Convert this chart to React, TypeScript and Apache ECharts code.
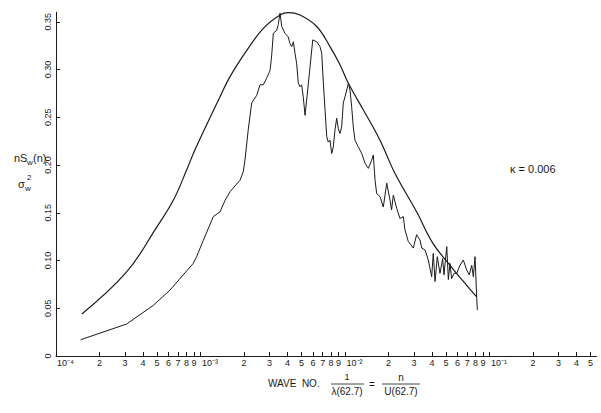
import React, { useEffect, useRef } from 'react';
import * as echarts from 'echarts';

// Smooth (theoretical) spectrum: wave number n and value nS_w(n)/σ_w²
const smoothN = [1.51e-4, 3.08e-4, 4.98e-4, 6.48e-4, 8.03e-4, 9.16e-4, 1.365e-3, 1.6e-3, 2.09e-3, 2.72e-3, 3.55e-3, 4.05e-3, 4.88e-3, 6.37e-3, 7.87e-3, 9.23e-3, 1.055e-2, 1.34e-2, 1.746e-2, 2.22e-2, 3.13e-2, 4.06e-2, 5.33e-2, 6.95e-2, 8.15e-2];
const smoothV = [0.044, 0.088, 0.135, 0.163, 0.195, 0.216, 0.2715, 0.2925, 0.320, 0.343, 0.357, 0.3595, 0.357, 0.345, 0.324, 0.305, 0.2855, 0.2576, 0.226, 0.191, 0.151, 0.118, 0.095, 0.074, 0.062];

// Measured (noisy) spectrum
const measuredN = [
  1.48e-4, 3.08e-4, 4.71e-4, 6.15e-4, 8.91e-4, 9.4e-4, 1.045e-3, 1.227e-3, 1.365e-3, 1.479e-3,
  1.6e-3, 1.876e-3, 1.977e-3, 2.03e-3, 2.14e-3, 2.26e-3, 2.45e-3, 2.58e-3, 2.72e-3, 2.87e-3,
  3.03e-3, 3.11e-3, 3.19e-3, 3.37e-3, 3.45e-3, 3.55e-3, 3.65e-3, 3.84e-3, 4.05e-3, 4.16e-3,
  4.28e-3, 4.39e-3, 4.51e-3, 4.63e-3, 4.75e-3, 4.88e-3, 5.01e-3, 5.14e-3, 5.29e-3, 5.43e-3,
  5.73e-3, 5.98e-3, 6.37e-3, 6.71e-3, 6.90e-3, 7.08e-3, 7.27e-3, 7.47e-3, 7.66e-3, 7.87e-3,
  8.09e-3, 8.30e-3, 8.53e-3, 8.76e-3, 8.99e-3, 9.23e-3, 9.48e-3, 9.73e-3, 1.0e-2, 1.028e-2,
  1.055e-2, 1.083e-2, 1.112e-2, 1.141e-2, 1.172e-2, 1.236e-2, 1.305e-2, 1.375e-2, 1.45e-2, 1.53e-2,
  1.57e-2, 1.614e-2, 1.657e-2, 1.746e-2, 1.841e-2, 1.944e-2, 2.05e-2, 2.10e-2, 2.16e-2, 2.28e-2,
  2.40e-2, 2.53e-2, 2.60e-2, 2.74e-2, 2.97e-2, 3.13e-2, 3.30e-2, 3.40e-2, 3.58e-2, 3.77e-2,
  3.98e-2, 4.08e-2, 4.20e-2, 4.35e-2, 4.54e-2, 4.74e-2, 4.84e-2, 5.06e-2, 5.19e-2, 5.33e-2,
  5.47e-2, 5.68e-2, 5.93e-2, 6.25e-2, 6.59e-2, 6.95e-2, 7.25e-2, 7.53e-2, 7.73e-2, 7.94e-2,
  8.15e-2, 8.24e-2,
];
const measuredV = [
  0.017, 0.0335, 0.053, 0.069, 0.097, 0.104, 0.121, 0.146, 0.151, 0.163,
  0.172, 0.184, 0.193, 0.205, 0.237, 0.265, 0.273, 0.284, 0.284, 0.291,
  0.299, 0.315, 0.338, 0.341, 0.347, 0.359, 0.345, 0.338, 0.334, 0.327,
  0.324, 0.329, 0.317, 0.306, 0.286, 0.282, 0.284, 0.2715, 0.252, 0.268,
  0.303, 0.331, 0.329, 0.324, 0.317, 0.286, 0.258, 0.230, 0.224, 0.226,
  0.212, 0.219, 0.237, 0.249, 0.238, 0.233, 0.240, 0.265, 0.2715, 0.2785,
  0.2855, 0.2785, 0.261, 0.240, 0.226, 0.219, 0.212, 0.202, 0.1965, 0.205,
  0.2105, 0.184, 0.170, 0.167, 0.156, 0.181, 0.163, 0.153, 0.1685, 0.1545,
  0.144, 0.146, 0.132, 0.120, 0.113, 0.127, 0.1215, 0.113, 0.111, 0.1005,
  0.083, 0.1075, 0.078, 0.104, 0.0866, 0.102, 0.085, 0.1145, 0.080, 0.097,
  0.081, 0.0866, 0.0866, 0.095, 0.1005, 0.090, 0.085, 0.095, 0.083, 0.104,
  0.062, 0.048,
];

const xTickValues = [
  1e-4, 2e-4, 3e-4, 4e-4, 5e-4, 6e-4, 7e-4, 8e-4, 9e-4,
  1e-3, 2e-3, 3e-3, 4e-3, 5e-3, 6e-3, 7e-3, 8e-3, 9e-3,
  1e-2, 2e-2, 3e-2, 4e-2, 5e-2, 6e-2, 7e-2, 8e-2, 9e-2,
  1e-1, 2e-1, 3e-1, 4e-1, 5e-1,
];
const yTickValues = [0, 0.05, 0.1, 0.15, 0.2, 0.25, 0.3, 0.35];
const kappaLabel = 'κ = 0.006';

const SUP: Record<string, string> = { '-': '⁻', '0': '⁰', '1': '¹', '2': '²', '3': '³', '4': '⁴', '5': '⁵', '6': '⁶', '7': '⁷', '8': '⁸', '9': '⁹' };

function fmtX(v: number): string {
  const e = Math.floor(Math.log10(v) + 1e-9);
  const m = Math.round(v / Math.pow(10, e));
  if (m === 1) return '{p|10' + String(e).split('').map((c) => SUP[c] || c).join('') + '}';
  return String(m);
}

export default function App() {
  const ref = useRef<HTMLDivElement>(null);
  useEffect(() => {
    const chart = echarts.init(ref.current!, null, { renderer: 'svg' });
    const font = 'Liberation Sans, Arial, sans-serif';
    const ink = '#1a1a1a';
    chart.setOption({
      animation: false,
      backgroundColor: '#ffffff',
      grid: { left: 56, right: 4.5, top: 12.2, bottom: 57 },
      xAxis: {
        type: 'log',
        logBase: 10,
        min: 1e-4,
        max: 0.55,
        axisLine: { show: true, onZero: false, lineStyle: { color: ink, width: 1 } },
        axisTick: { show: true, inside: true, length: 4, customValues: xTickValues, lineStyle: { color: ink } },
        axisLabel: {
          customValues: xTickValues,
          formatter: (v: number) => fmtX(v),
          fontSize: 9,
          color: ink,
          margin: 2,
          fontFamily: font,
          hideOverlap: false,
          rich: {
            p: { fontSize: 9, fontFamily: font, color: ink, padding: [0, 0, 0, 19] },
          },
        },
        splitLine: { show: false },
        minorTick: { show: false },
      },
      yAxis: {
        type: 'value',
        min: 0,
        max: 0.36,
        axisLine: { show: true, lineStyle: { color: ink, width: 1 } },
        axisTick: { show: true, inside: true, length: 4, customValues: yTickValues, lineStyle: { color: ink } },
        axisLabel: {
          customValues: yTickValues,
          rotate: 90,
          formatter: (v: number) => (v === 0 ? '0' : v.toFixed(2)),
          fontSize: 9,
          color: ink,
          margin: 4,
          fontFamily: font,
        },
        splitLine: { show: false },
      },
      series: [
        {
          type: 'line',
          name: 'theory',
          data: smoothN.map((n, i) => [n, smoothV[i]]),
          smooth: 0.4,
          showSymbol: false,
          lineStyle: { color: ink, width: 1.2 },
        },
        {
          type: 'line',
          name: 'measured',
          data: measuredN.map((n, i) => [n, measuredV[i]]),
          showSymbol: false,
          lineStyle: { color: ink, width: 1 },
        },
      ],
      graphic: [
        // y-axis title
        { type: 'text', x: 14, y: 158, style: { text: 'nS', fill: ink, font: `11px ${font}`, verticalAlign: 'middle' } },
        { type: 'text', x: 27, y: 162, style: { text: 'w', fill: ink, font: `8px ${font}`, verticalAlign: 'middle' } },
        { type: 'text', x: 33, y: 158, style: { text: '(n)', fill: ink, font: `11px ${font}`, verticalAlign: 'middle' } },
        { type: 'text', x: 18, y: 184, style: { text: 'σ', fill: ink, font: `11px ${font}`, verticalAlign: 'middle' } },
        { type: 'text', x: 25, y: 188, style: { text: 'w', fill: ink, font: `8px ${font}`, verticalAlign: 'middle' } },
        { type: 'text', x: 27, y: 177, style: { text: '2', fill: ink, font: `8px ${font}`, verticalAlign: 'middle' } },
        // x-axis title
        { type: 'text', x: 268, y: 383, style: { text: 'WAVE  NO.', fill: ink, font: `10px ${font}`, verticalAlign: 'middle' } },
        { type: 'text', x: 347, y: 377, style: { text: '1', fill: ink, font: `9px ${font}`, align: 'center', verticalAlign: 'middle' } },
        { type: 'line', shape: { x1: 331, y1: 384, x2: 364, y2: 384 }, style: { stroke: ink, lineWidth: 0.8 } },
        { type: 'text', x: 347, y: 391, style: { text: 'λ(62.7)', fill: ink, font: `10px ${font}`, align: 'center', verticalAlign: 'middle' } },
        { type: 'text', x: 372, y: 384, style: { text: '=', fill: ink, font: `10px ${font}`, align: 'center', verticalAlign: 'middle' } },
        { type: 'text', x: 401, y: 377, style: { text: 'n', fill: ink, font: `10px ${font}`, align: 'center', verticalAlign: 'middle' } },
        { type: 'line', shape: { x1: 382, y1: 384, x2: 420, y2: 384 }, style: { stroke: ink, lineWidth: 0.8 } },
        { type: 'text', x: 401, y: 391, style: { text: 'U(62.7)', fill: ink, font: `10px ${font}`, align: 'center', verticalAlign: 'middle' } },
        // annotation
        { type: 'text', x: 510, y: 169, style: { text: kappaLabel, fill: ink, font: `11px ${font}`, verticalAlign: 'middle' } },
      ],
    });
    return () => chart.dispose();
  }, []);
  return <div ref={ref} style={{ position: 'fixed', left: 0, top: 0, width: 601, height: 413 }} />;
}
